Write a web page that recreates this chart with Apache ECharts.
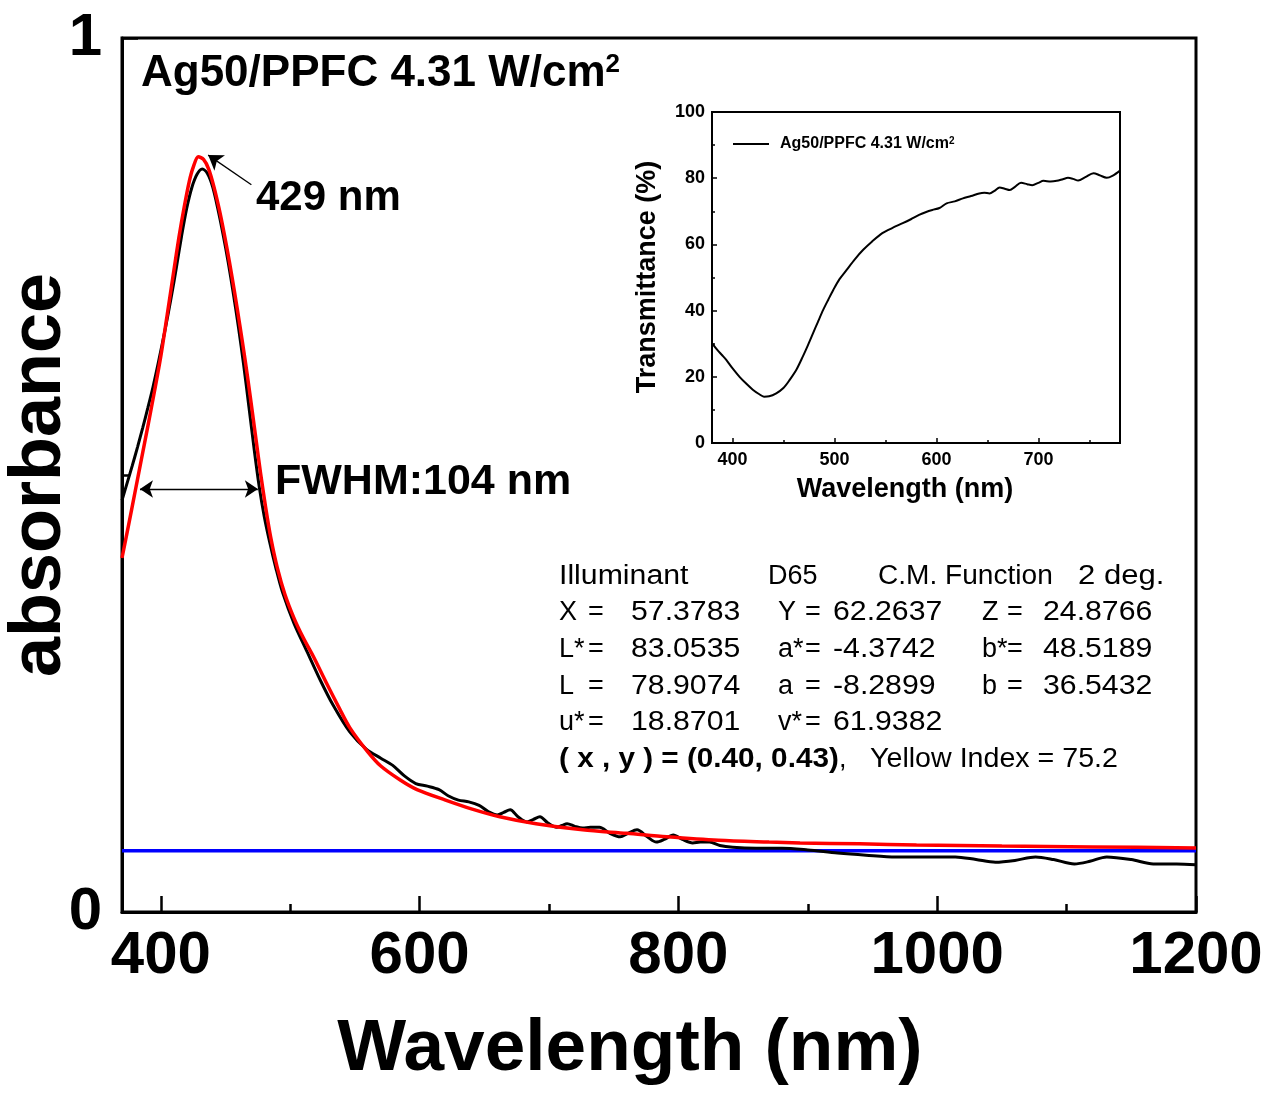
<!DOCTYPE html>
<html>
<head>
<meta charset="utf-8">
<title>Ag50/PPFC absorbance</title>
<script src="https://cdn.jsdelivr.net/npm/echarts@6/dist/echarts.min.js"></script>
<style>
  html, body { margin: 0; padding: 0; background: #fff; }
  #chart { width: 1274px; height: 1093px; }
</style>
</head>
<body>
<div id="chart"></div>
<script>
// Measured absorbance spectrum [wavelength nm, absorbance]
const absMeasured = [
  [370,0.471],[374,0.491],[378,0.511],[382,0.532],[386,0.554],[390,0.577],[394,0.601],[398,0.628],
  [403,0.664],[408,0.703],[412,0.737],[416,0.773],[420,0.805],[424,0.829],[428,0.844],[432,0.850],
  [436,0.845],[440,0.830],[444,0.805],[448,0.776],[452,0.744],[456,0.708],[460,0.669],[464,0.626],
  [468,0.579],[472,0.531],[476,0.487],[480,0.452],[484,0.424],[489,0.393],[494,0.366],[503,0.330],
  [513,0.298],[523,0.266],[533,0.237],[546,0.206],[559,0.186],[570,0.176],[579,0.168],[588,0.156],
  [597,0.147],[606,0.144],[615,0.140],[622,0.133],[630,0.128],[638,0.126],[646,0.122],[653,0.115],
  [660,0.111],[665,0.114],[670,0.117],[676,0.109],[683,0.103],[688,0.106],[693,0.109],[699,0.102],
  [706,0.097],[710,0.099],[714,0.101],[720,0.098],[726,0.096],[732,0.097],[739,0.097],[747,0.090],
  [755,0.086],[761,0.090],[768,0.094],[776,0.086],[783,0.080],[789,0.083],[796,0.088],[803,0.083],
  [811,0.079],[817,0.080],[824,0.080],[832,0.076],[842,0.074],[860,0.073],[880,0.073],[900,0.071],
  [923,0.0675],[945,0.065],[968,0.063],[990,0.063],[1014,0.063],[1030,0.060],[1045,0.057],[1060,0.059],
  [1076,0.063],[1090,0.060],[1106,0.055],[1118,0.058],[1131,0.063],[1150,0.060],[1167,0.055],[1185,0.055],
  [1200,0.054]
];

// Fitted plasmon band [wavelength nm, absorbance]
const absFit = [
  [370,0.405],[375,0.442],[380,0.480],[385,0.518],[390,0.556],[395,0.595],[400,0.636],[405,0.684],
  [410,0.733],[414,0.772],[418,0.806],[422,0.836],[425,0.852],[429,0.864],[433,0.861],[437,0.850],
  [441,0.830],[445,0.805],[449,0.776],[453,0.744],[457,0.709],[461,0.672],[465,0.633],[469,0.591],
  [473,0.547],[477,0.503],[481,0.463],[485,0.428],[490,0.394],[496,0.363],[503,0.336],[510,0.314],
  [518,0.292],[528,0.262],[538,0.233],[546,0.211],[559,0.185],[570,0.167],[585,0.151],[598,0.140],
  [620,0.128],[640,0.118],[662,0.109],[690,0.101],[726,0.094],[760,0.090],[791,0.086],[831,0.082],
  [870,0.080],[894,0.079],[940,0.078],[984,0.0767],[1050,0.0755],[1120,0.0745],[1200,0.0732]
];

// Flat baseline level
const baselineLevel = 0.07;
const baseline = [[370, baselineLevel], [1200, baselineLevel]];

// Transmittance spectrum for the inset [wavelength nm, %]
const transmittance = [
  [380,30.2],[385,28.2],[390,26.5],[394,25.1],[400,22.6],[407,20.0],[414,17.8],[420,16.1],
  [426,14.8],[431,14.0],[436,14.1],[443,15.0],[450,16.6],[456,19.0],[463,22.3],[469,26.1],
  [474,29.5],[479,33.1],[484,36.7],[489,40.2],[494,43.3],[499,46.3],[505,49.5],[512,52.3],
  [520,55.5],[528,58.3],[537,60.9],[547,63.4],[557,65.0],[567,66.4],[575,67.6],[583,68.9],
  [590,69.8],[596,70.4],[603,71.0],[610,72.4],[618,73.0],[626,73.9],[634,74.6],[642,75.4],
  [647,75.6],[652,75.4],[657,76.2],[662,77.2],[667,76.8],[672,76.4],[677,77.4],[683,78.6],
  [689,78.2],[694,77.9],[700,78.6],[705,79.2],[712,79.0],[718,79.2],[724,79.7],[729,80.1],
  [734,79.8],[739,79.3],[746,80.3],[754,81.5],[760,80.9],[767,80.1],[773,80.8],[780,82.3]
];

// Axis ticks
const mainTicks = [400, 600, 800, 1000, 1200];
const mainMinorTicks = [500, 700, 900, 1100];
const insetTicks = [400, 500, 600, 700];
const insetMinorTicks = [450, 550, 650, 750];

// Annotations
const peakWavelength = 429;
const peakArrow = [[470, 0.832], [436.6, 0.866]];
const fwhmNm = 104;
const fwhmArrow = [[383.9, 0.484], [475, 0.484]];
const sampleName = 'Ag50/PPFC 4.31 W/cm';

// Colorimetry table
const colorHeader = ['Illuminant', 'D65', 'C.M. Function', '2 deg.'];
const colorEntries = [
  [['X', '57.3783'], ['Y', '62.2637'], ['Z', '24.8766']],
  [['L*', '83.0535'], ['a*', '-4.3742'], ['b*', '48.5189']],
  [['L', '78.9074'], ['a', '-8.2899'], ['b', '36.5432']],
  [['u*', '18.8701'], ['v*', '61.9382']]
];
const chromaticity = '( x , y ) = (0.40, 0.43)';
const yellowIndex = 'Yellow Index = 75.2';

const FONT = '"Liberation Sans", Arial, Helvetica, sans-serif';

function txt(x, y, text, size, opts) {
  opts = opts || {};
  return {
    type: 'text', x: x, y: y, rotation: opts.rotation || 0,
    scaleX: opts.scaleX || 1, silent: true, z: 10,
    style: {
      text: text, fontFamily: FONT, fontSize: size,
      fontWeight: opts.bold ? 'bold' : 'normal', fill: '#000',
      align: opts.align || 'left', verticalAlign: 'middle',
      textAlign: opts.align || 'left', textVerticalAlign: 'middle',
      rich: opts.rich
    }
  };
}

const graphics = [];
// title
graphics.push(txt(141, 74, '{m|' + sampleName + '}{s|2}', 44, {
  bold: true,
  rich: {
    m: { fontFamily: FONT, fontSize: 44, fontWeight: 'bold', fill: '#000' },
    s: { fontFamily: FONT, fontSize: 26, fontWeight: 'bold', fill: '#000', verticalAlign: 'top' }
  }
}));
graphics.push(txt(256, 198, peakWavelength + ' nm', 42, { bold: true }));
graphics.push(txt(275, 482, 'FWHM:' + fwhmNm + ' nm', 43, { bold: true }));
graphics.push(txt(630, 1050, 'Wavelength (nm)', 73, { bold: true, align: 'center' }));
graphics.push(txt(40, 475, 'absorbance', 72, { bold: true, align: 'center', rotation: Math.PI / 2 }));
graphics.push(txt(905, 490, 'Wavelength (nm)', 27, { bold: true, align: 'center' }));
graphics.push(txt(648, 277, 'Transmittance (%)', 27, { bold: true, align: 'center', rotation: Math.PI / 2 }));

// colorimetry block
const TS = 27;
const rowY = [577, 613, 650, 687, 723, 760];
const headerX = [559, 768, 878, 1078];
const headerScale = [1.12, 1.0, 1.04, 1.15];
const labelX = [559, 778, 982], eqX = [588, 805, 1007], numX = [631, 833, 1043];
colorHeader.forEach((h, i) => graphics.push(txt(headerX[i], rowY[0], h, TS, { scaleX: headerScale[i] })));
colorEntries.forEach((row, r) => {
  row.forEach((e, c) => {
    graphics.push(txt(labelX[c], rowY[r + 1], e[0], TS));
    graphics.push(txt(eqX[c], rowY[r + 1], '=', TS));
    graphics.push(txt(numX[c], rowY[r + 1], e[1], TS, { scaleX: 1.12 }));
  });
});
graphics.push(txt(559, rowY[5], chromaticity, TS, { bold: true, scaleX: 1.1 }));
graphics.push(txt(839, rowY[5], ',', TS));
graphics.push(txt(870, rowY[5], yellowIndex, TS, { scaleX: 1.06 }));

const tickLine = { color: '#000', width: 2.5 };
const insetTickLine = { color: '#000', width: 1.5 };
const plainNumber = v => String(v);

const option = {
  animation: false,
  backgroundColor: '#fff',
  grid: [
    { left: 122, top: 38, width: 1074, height: 874, show: true, borderColor: '#000', borderWidth: 3, backgroundColor: 'transparent' },
    { left: 712, top: 112, width: 408, height: 331, show: true, borderColor: '#000', borderWidth: 2, backgroundColor: 'transparent' }
  ],
  legend: {
    data: [sampleName + '2'],
    left: 728, top: 131,
    icon: 'rect', itemWidth: 36, itemHeight: 2,
    formatter: () => '{a|' + sampleName + '}{s|2}',
    textStyle: {
      rich: {
        a: { fontFamily: FONT, fontSize: 16, fontWeight: 'bold', color: '#000', padding: [0, 0, 0, 6] },
        s: { fontFamily: FONT, fontSize: 10, fontWeight: 'bold', color: '#000', verticalAlign: 'top' }
      }
    }
  },
  xAxis: [
    {
      gridIndex: 0, type: 'value', min: 370, max: 1200, position: 'bottom',
      axisLine: { show: true, onZero: false, lineStyle: { color: '#000', width: 3 } },
      axisTick: { show: true, inside: true, length: 16, lineStyle: tickLine, customValues: mainTicks },
      axisLabel: { customValues: mainTicks, formatter: plainNumber, fontFamily: FONT, fontSize: 60, fontWeight: 'bold', color: '#000', margin: 14 },
      splitLine: { show: false }
    },
    {
      gridIndex: 0, type: 'value', min: 370, max: 1200, position: 'bottom',
      axisLine: { show: false, onZero: false },
      axisTick: { show: true, inside: true, length: 8, lineStyle: tickLine, customValues: mainMinorTicks },
      axisLabel: { show: false },
      splitLine: { show: false }
    },
    {
      gridIndex: 1, type: 'value', min: 380, max: 780, position: 'bottom',
      axisLine: { show: true, onZero: false, lineStyle: { color: '#000', width: 2 } },
      axisTick: { show: true, inside: true, length: 5, lineStyle: insetTickLine, customValues: insetTicks },
      axisLabel: { customValues: insetTicks, formatter: plainNumber, fontFamily: FONT, fontSize: 18, fontWeight: 'bold', color: '#000', margin: 8 },
      splitLine: { show: false }
    },
    {
      gridIndex: 1, type: 'value', min: 380, max: 780, position: 'bottom',
      axisLine: { show: false, onZero: false },
      axisTick: { show: true, inside: true, length: 3, lineStyle: insetTickLine, customValues: insetMinorTicks },
      axisLabel: { show: false },
      splitLine: { show: false }
    }
  ],
  yAxis: [
    {
      gridIndex: 0, type: 'value', min: 0, max: 1, interval: 1,
      axisLine: { show: true, onZero: false, lineStyle: { color: '#000', width: 3 } },
      axisTick: { show: true, inside: true, length: 16, lineStyle: tickLine },
      minorTick: { show: true, splitNumber: 2, length: 7, lineStyle: tickLine },
      axisLabel: { fontFamily: FONT, fontSize: 60, fontWeight: 'bold', color: '#000', margin: 20 },
      splitLine: { show: false }, minorSplitLine: { show: false }
    },
    {
      gridIndex: 1, type: 'value', min: 0, max: 100, interval: 20,
      axisLine: { show: true, onZero: false, lineStyle: { color: '#000', width: 2 } },
      axisTick: { show: true, inside: true, length: 5, lineStyle: insetTickLine },
      minorTick: { show: true, splitNumber: 2, length: 3, lineStyle: insetTickLine },
      axisLabel: { fontFamily: FONT, fontSize: 18, fontWeight: 'bold', color: '#000', margin: 7 },
      splitLine: { show: false }, minorSplitLine: { show: false }
    }
  ],
  graphic: graphics,
  series: [
    {
      type: 'line', xAxisIndex: 0, yAxisIndex: 0, data: baseline,
      symbol: 'none', lineStyle: { color: '#0000ff', width: 3.5 }, itemStyle: { color: '#0000ff' }, silent: true
    },
    {
      type: 'line', xAxisIndex: 0, yAxisIndex: 0, data: absMeasured,
      symbol: 'none', smooth: 0.3, lineStyle: { color: '#000', width: 3 }, itemStyle: { color: '#000' }, silent: true,
      markLine: {
        silent: true, animation: false,
        label: { show: false },
        lineStyle: { color: '#000', width: 1.3, type: 'solid' },
        data: [
          [
            { coord: peakArrow[0], symbol: 'none' },
            { coord: peakArrow[1], symbol: 'arrow', symbolSize: 14 }
          ],
          [
            { coord: fwhmArrow[0], symbol: 'arrow', symbolSize: 13 },
            { coord: fwhmArrow[1], symbol: 'arrow', symbolSize: 13 }
          ]
        ]
      }
    },
    {
      type: 'line', xAxisIndex: 0, yAxisIndex: 0, data: absFit,
      symbol: 'none', smooth: 0.3, lineStyle: { color: '#ff0000', width: 3.5 }, itemStyle: { color: '#ff0000' }, silent: true
    },
    {
      name: sampleName + '2',
      type: 'line', xAxisIndex: 2, yAxisIndex: 1, data: transmittance,
      symbol: 'none', smooth: 0.3, lineStyle: { color: '#000', width: 2 }, itemStyle: { color: '#000' }, silent: true
    }
  ]
};

const chart = echarts.init(document.getElementById('chart'), null, { renderer: 'canvas' });
chart.setOption(option);
</script>
</body>
</html>
